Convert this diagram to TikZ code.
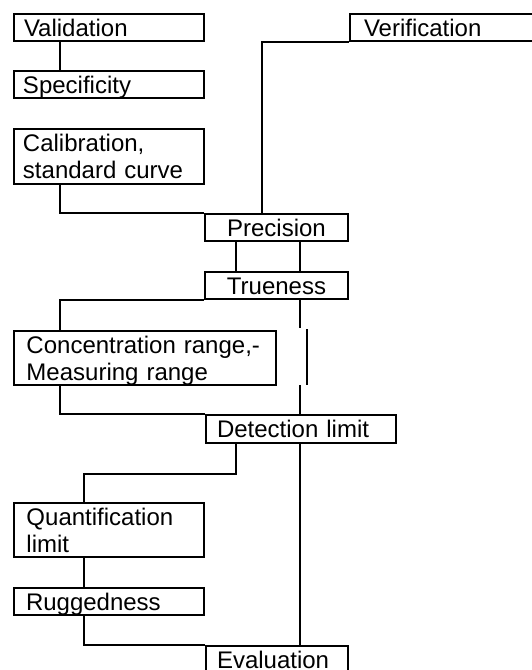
\documentclass[tikz,border=0pt]{standalone}
\usepackage{fontspec}
\setmainfont{Liberation Sans}
\newcommand\ms{\rule[-5pt]{0pt}{27pt}}
\begin{document}
\begin{tikzpicture}[x=1pt,y=-1pt,
  box/.style={draw, line width=2pt, rectangle, anchor=north west, inner ysep=0pt,
    align=left, font=\fontsize{24}{27}\selectfont},
  cbox/.style={box, align=center, inner xsep=0pt},
  conn/.style={draw, line width=2pt}]
\useasboundingbox (0,0) rectangle (532,670);
\clip (0,0) rectangle (532,670);
\node[box, text width=170pt, inner xsep=10pt, minimum height=27pt] (val) at (13,13) {\ms Validation};
\node[box, text width=172pt, inner xsep=9pt, minimum height=27pt] (spec) at (13,70) {\ms Specificity};
\node[box, text width=172pt, inner xsep=9pt, minimum height=55pt] (cal) at (13,128) {\ms Calibration,\\\ms standard curve};
\node[box, text width=222pt, inner xsep=14pt, minimum height=27pt] (ver) at (349,13) {\ms Verification};
\node[cbox, text width=143pt, minimum height=27pt] (prec) at (204,213) {\ms Precision};
\node[cbox, text width=143pt, minimum height=27pt] (true) at (204,271) {\ms Trueness};
\node[box, text width=237pt, inner xsep=12.5pt, minimum height=54pt] (conc) at (13,330) {\ms Concentration range,-\\\ms Measuring range};
\node[box, text width=168pt, inner xsep=11pt, minimum height=28pt] (det) at (205,414) {\ms Detection limit};
\node[box, text width=165pt, inner xsep=12.5pt, minimum height=54pt] (quant) at (13,502) {\ms Quantification\\\ms limit};
\node[box, text width=166pt, inner xsep=12pt, minimum height=27pt] (rug) at (13,587) {\ms Ruggedness};
\node[box, text width=120pt, inner xsep=11pt, minimum height=27pt] (eval) at (205,645) {\ms Evaluation};
% connectors
\draw[conn] ([xshift=47pt]val.south west) -- ([xshift=47pt]spec.north west);
\draw[conn] ([xshift=47pt]cal.south west) |- (prec.north west);
\draw[conn] (ver.south west) -| ([xshift=58pt]prec.north west);
\draw[conn] ([xshift=32pt]prec.south west) -- ([xshift=32pt]true.north west);
\draw[conn] ([xshift=96pt]prec.south west) -- ([xshift=96pt]true.north west);
\draw[conn] (true.south west) -| ([xshift=47pt]conc.north west);
\draw[conn] ([xshift=96pt]true.south west) -- ++(0,28);
\draw[conn] ([xshift=103pt]true.south west) ++(0,29) -- ++(0,56);
\draw[conn] ([xshift=95pt]det.north west) ++(0,-29) -- ([xshift=95pt]det.north west);
\draw[conn] ([xshift=47pt]conc.south west) |- (det.north west);
\draw[conn] ([xshift=31pt]det.south west) -- ++(0,30) -| ([xshift=71pt]quant.north west);
\draw[conn] ([xshift=95pt]det.south west) -- ([xshift=95pt]eval.north west);
\draw[conn] ([xshift=71pt]quant.south west) -- ([xshift=71pt]rug.north west);
\draw[conn] ([xshift=71pt]rug.south west) |- (eval.north west);
\end{tikzpicture}
\end{document}
